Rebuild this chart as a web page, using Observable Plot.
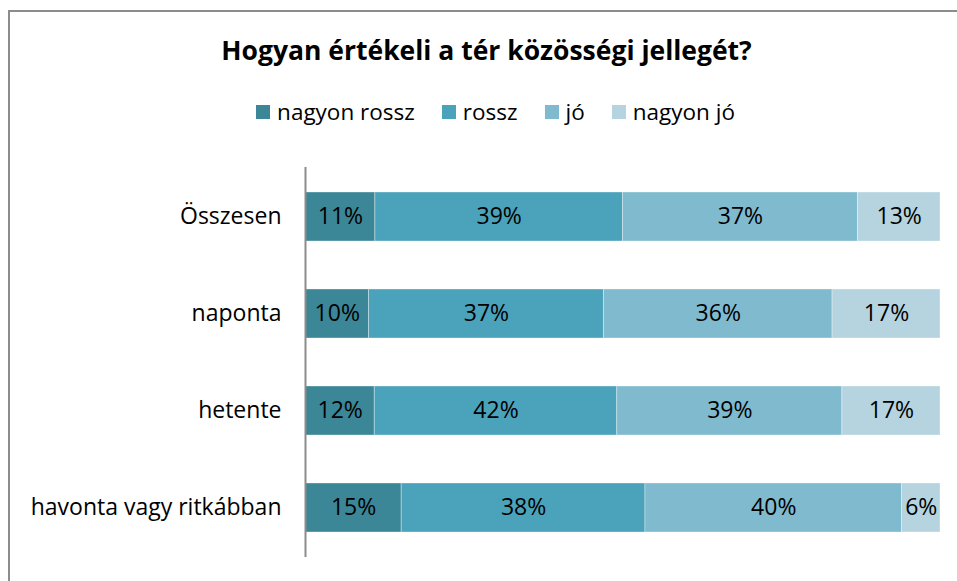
<!DOCTYPE html>
<html>
<head>
<meta charset="utf-8">
<script src="https://cdn.jsdelivr.net/npm/d3@7"></script>
<script src="https://cdn.jsdelivr.net/npm/@observablehq/plot@0.6"></script>
<style>
  html, body { margin: 0; padding: 0; background: #fff; }
  body { width: 957px; height: 581px; position: relative; overflow: hidden; font-family: "Open Sans", "Noto Sans", sans-serif; }
  #frame { position: absolute; left: 8px; top: 10px; width: 1000px; height: 700px; border-top: 2px solid #8c8c8c; border-left: 2px solid #8c8c8c; }
  #title { position: absolute; left: 0; width: 957px; top: 31px; line-height: 38px; text-align: center; font-weight: bold; font-size: 26.5px; color: #000; padding-left: 16px; box-sizing: border-box; }
  #legend { position: absolute; left: 0; width: 957px; top: 97px; line-height: 30px; display: flex; justify-content: center; gap: 27px; font-size: 22.5px; color: #000; padding-left: 34px; box-sizing: border-box; }
  #legend .item { display: flex; align-items: center; gap: 7px; }
  #legend .sw { width: 14px; height: 14px; display: inline-block; }
  #plot { position: absolute; left: 0; top: 150px; }
</style>
</head>
<body>
<div id="frame"></div>
<div id="title">Hogyan értékeli a tér közösségi jellegét?</div>
<div id="legend"></div>
<div id="plot"></div>
<script>
const categories = ["Összesen", "naponta", "hetente", "havonta vagy ritkábban"];
const series = ["nagyon rossz", "rossz", "jó", "nagyon jó"];
const colors = ["#3b8797", "#4aa3bb", "#7fbacf", "#b5d4df"];
const nagyonRossz = [11, 10, 12, 15];
const rossz = [39, 37, 42, 38];
const jo = [37, 36, 39, 40];
const nagyonJo = [13, 17, 17, 6];

const seriesValues = [nagyonRossz, rossz, jo, nagyonJo];
const data = [];
categories.forEach((c, i) => {
  series.forEach((s, j) => {
    data.push({cat: c, series: s, value: seriesValues[j][i]});
  });
});

const legend = document.getElementById("legend");
series.forEach((s, j) => {
  const it = document.createElement("div");
  it.className = "item";
  it.innerHTML = `<span class="sw" style="background:${colors[j]}"></span><span>${s}</span>`;
  legend.appendChild(it);
});

const stackOpts = {x: "value", y: "cat", z: "series", offset: "normalize"};

const chart = Plot.plot({
  width: 957,
  height: 431,
  marginLeft: 305,
  marginRight: 17,
  marginTop: 17,
  marginBottom: 24,
  style: {fontFamily: "'Open Sans', 'Noto Sans', sans-serif", fontSize: "23px", color: "#000", background: "transparent"},
  x: {domain: [0, 1], axis: null},
  y: {domain: categories, paddingInner: 0.49, paddingOuter: 0.24, label: null, tickSize: 0, tickPadding: 24},
  color: {domain: series, range: colors},
  marks: [
    Plot.barX(data, Plot.stackX({...stackOpts, fill: "series", stroke: "#ffffff", strokeOpacity: 0.35, strokeWidth: 1})),
    Plot.text(data, Plot.stackX({...stackOpts, text: d => d.value + "%", fill: "#000", fontSize: 23})),
    Plot.ruleX([0], {stroke: "#8c8c8c", strokeWidth: 2})
  ]
});
chart.querySelectorAll("g[aria-label='y-axis tick label'] text").forEach(t => { t.setAttribute("fill", "#000"); t.style.fontSize = "23px"; });
document.getElementById("plot").appendChild(chart);
</script>
</body>
</html>
